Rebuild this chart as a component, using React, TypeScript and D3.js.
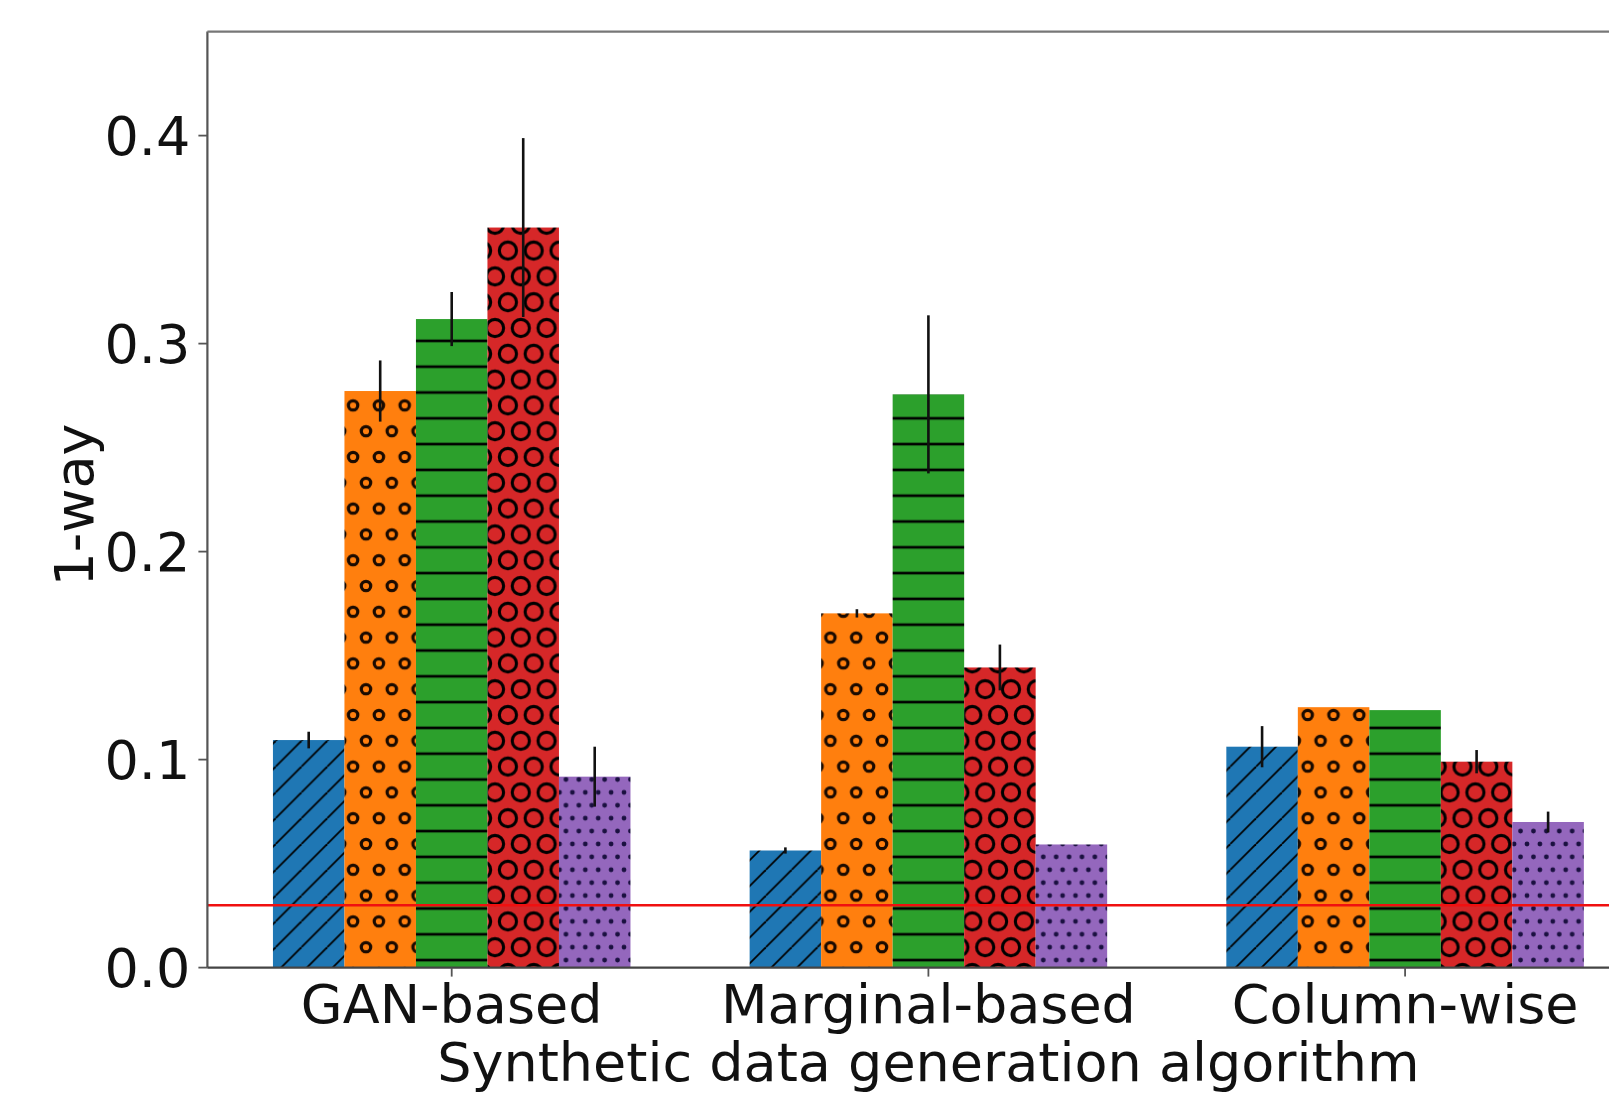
import * as d3 from "d3";

const categories = ["GAN-based", "Marginal-based", "Column-wise"];
const seriesColors = ["#1f77b4", "#ff7f0e", "#2ca02c", "#d62728", "#9467bd"];
const seriesHatches = ["diag", "smallRing", "hline", "bigRing", "dots"];
// one array per series, one value per category
const blueValues = [0.1094, 0.0563, 0.1062];
const orangeValues = [0.2772, 0.1703, 0.1252];
const greenValues = [0.3118, 0.2756, 0.1238];
const redValues = [0.3558, 0.1443, 0.099];
const purpleValues = [0.0918, 0.0592, 0.07];
const blueErrors = [0.004, 0.0015, 0.0099];
const orangeErrors = [0.0147, 0.002, 0];
const greenErrors = [0.013, 0.038, 0];
const redErrors = [0.043, 0.011, 0.0056];
const purpleErrors = [0.0144, 0, 0.005];
const yTicks = [0, 0.1, 0.2, 0.3, 0.4];
const referenceValue = 0.03;

const seriesValues = [blueValues, orangeValues, greenValues, redValues, purpleValues];
const seriesErrors = [blueErrors, orangeErrors, greenErrors, redErrors, purpleErrors];

const width = 1609;
const height = 1094;
const barWidth = 0.15;
const font = "'DejaVu Sans', sans-serif";
const fontSize = 54;

// hatch tile geometry (shared origin, like matplotlib's figure-anchored hatches)
const hs = 25.8;
const hx = 17.7;
const hy = 715;
const hatchStroke = 2.3;

function HatchDefs() {
  const corners = (w: number, h: number) => [
    [0, 0],
    [w, 0],
    [0, h],
    [w, h],
  ];
  return (
    <defs>
      <pattern id="diag" patternUnits="userSpaceOnUse" x={hx} y={hy} width={hs} height={hs}>
        <rect width={hs} height={hs} fill={seriesColors[0]} />
        {[0, 1, 2].map((k) => (
          <line
            key={k}
            x1={k * hs - hs}
            y1={hs}
            x2={k * hs}
            y2={0}
            stroke="#000"
            strokeWidth={1.8}
          />
        ))}
      </pattern>
      <pattern id="hline" patternUnits="userSpaceOnUse" x={hx} y={hy} width={hs} height={hs}>
        <rect width={hs} height={hs} fill={seriesColors[2]} />
        <line x1={0} x2={hs} y1={hs / 2} y2={hs / 2} stroke="#000" strokeWidth={hatchStroke + 0.4} />
      </pattern>
      <pattern id="smallRing" patternUnits="userSpaceOnUse" x={hx} y={hy} width={hs} height={hs * 2}>
        <rect width={hs} height={hs * 2} fill={seriesColors[1]} />
        {[...corners(hs, hs * 2), [hs / 2, hs]].map(([cx, cy], i) => (
          <circle key={i} cx={cx} cy={cy} r={4.7} fill="none" stroke="#1a0a00" strokeWidth={3.2} />
        ))}
      </pattern>
      <pattern id="bigRing" patternUnits="userSpaceOnUse" x={hx} y={hy} width={hs} height={hs * 2}>
        <rect width={hs} height={hs * 2} fill={seriesColors[3]} />
        {[...corners(hs, hs * 2), [hs / 2, hs]].map(([cx, cy], i) => (
          <circle key={i} cx={cx} cy={cy} r={8.6} fill="none" stroke="#000" strokeWidth={3.1} />
        ))}
      </pattern>
      <pattern id="dots" patternUnits="userSpaceOnUse" x={hx} y={hy} width={hs / 2} height={hs}>
        <rect width={hs / 2} height={hs} fill={seriesColors[4]} />
        {[...corners(hs / 2, hs), [hs / 4, hs / 2]].map(([cx, cy], i) => (
          <circle key={i} cx={cx} cy={cy} r={2.4} fill="#1a1040" />
        ))}
      </pattern>
    </defs>
  );
}

export default function App() {
  const x = d3.scaleLinear().domain([-0.5125, 2.5125]).range([207.4, 1649.4]);
  const y = d3.scaleLinear().domain([0, 0.45]).range([967.6, 31.6]);
  const [x0, x1] = x.range();
  const [yBottom, yTop] = y.range();
  const tickLen = 9;

  return (
    <svg
      width={width}
      height={height}
      style={{ position: "absolute", left: 0, top: 0, background: "#fff" }}
      fontFamily={font}
    >
      <HatchDefs />
      <rect width={width} height={height} fill="#fff" />

      {seriesValues.map((vals, si) => (
        <g key={`series-${si}`}>
          {vals.map((v, ci) => {
            const left = x(ci + (si - 2) * barWidth - barWidth / 2);
            const right = x(ci + (si - 2) * barWidth + barWidth / 2);
            return (
              <rect
                key={ci}
                x={left}
                y={y(v)}
                width={right - left}
                height={y(0) - y(v)}
                fill={`url(#${seriesHatches[si]})`}
              />
            );
          })}
        </g>
      ))}

      {/* reference line */}
      <line
        x1={x0}
        x2={x1}
        y1={y(referenceValue)}
        y2={y(referenceValue)}
        stroke="#f01010"
        strokeWidth={2.5}
      />

      {/* error bars */}
      {seriesValues.map((vals, si) =>
        vals.map((v, ci) => {
          const e = seriesErrors[si][ci];
          if (!e) return null;
          const cx = x(ci + (si - 2) * barWidth);
          return (
            <line
              key={`err-${si}-${ci}`}
              x1={cx}
              x2={cx}
              y1={y(v - e)}
              y2={y(v + e)}
              stroke="#111"
              strokeWidth={2.6}
            />
          );
        })
      )}

      {/* spines */}
      <line x1={x0} x2={x0} y1={yTop} y2={yBottom} stroke="#555" strokeWidth={2.2} />
      <line x1={x0} x2={x1} y1={yTop} y2={yTop} stroke="#777" strokeWidth={2.2} />
      <line x1={x0} x2={x1} y1={yBottom} y2={yBottom} stroke="#444" strokeWidth={2.2} />

      {/* y axis */}
      {yTicks.map((t) => (
        <g key={`yt-${t}`}>
          <line x1={x0 - tickLen} x2={x0} y1={y(t)} y2={y(t)} stroke="#555" strokeWidth={1.8} />
          <text
            x={x0 - tickLen - 8}
            y={y(t) + 19.5}
            textAnchor="end"
            fontSize={fontSize}
            fill="#111"
          >
            {t.toFixed(1)}
          </text>
        </g>
      ))}
      <text
        transform={`translate(93, 505) rotate(-90)`}
        textAnchor="middle"
        fontSize={fontSize}
        fill="#111"
      >
        1-way
      </text>

      {/* x axis */}
      {categories.map((c, ci) => (
        <g key={c}>
          <line x1={x(ci)} x2={x(ci)} y1={yBottom} y2={yBottom + tickLen} stroke="#555" strokeWidth={1.8} />
          <text x={x(ci)} y={1023} textAnchor="middle" fontSize={fontSize} fill="#111">
            {c}
          </text>
        </g>
      ))}
      <text x={(x0 + x1) / 2} y={1080.5} textAnchor="middle" fontSize={fontSize} fill="#111">
        Synthetic data generation algorithm
      </text>
    </svg>
  );
}
